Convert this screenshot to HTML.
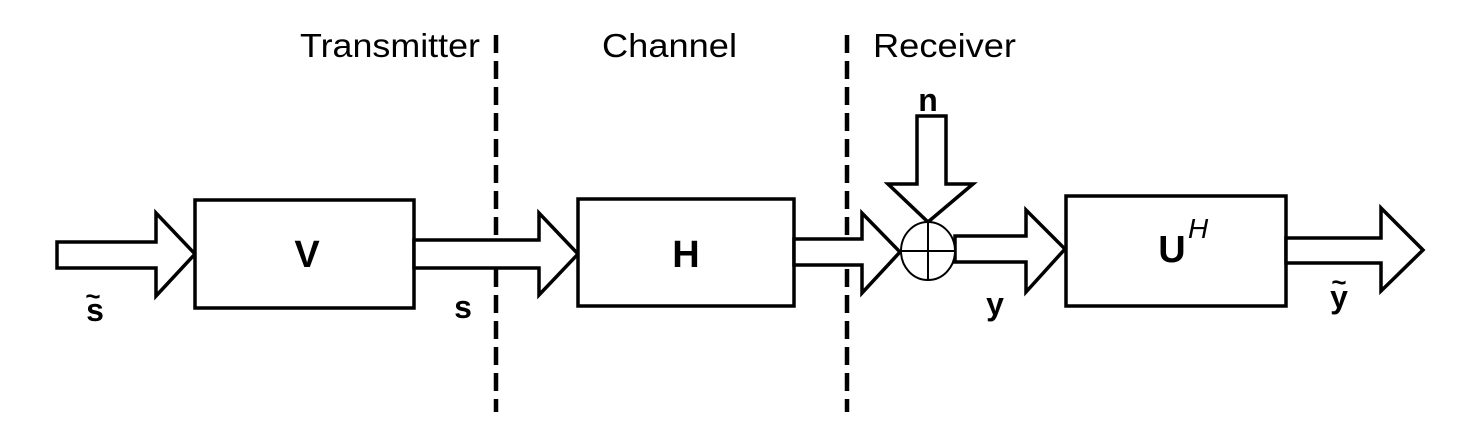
<!DOCTYPE html>
<html><head><style>
html,body{margin:0;padding:0;background:#fff;}
svg{display:block;}
text{font-family:"Liberation Sans",sans-serif;fill:#000;}
</style></head><body>
<svg width="1461" height="441" viewBox="0 0 1461 441" xmlns="http://www.w3.org/2000/svg">
<g stroke="#000" stroke-width="4.5" stroke-dasharray="18 8" fill="none">
<line x1="496" y1="35" x2="496" y2="412"/>
<line x1="847" y1="35" x2="847" y2="412"/>
</g>
<g stroke="#000" stroke-width="3.5" fill="#fff" stroke-linejoin="miter">
<polygon points="57,242 156,242 156,213 195,254 156,296 156,268 57,268"/>
<rect x="195" y="200" width="219" height="108"/>
<polygon points="414,240 539,240 539,213 578,254 539,295 539,268 414,268"/>
<rect x="578" y="199" width="216" height="107"/>
<polygon points="794,239 862,239 862,213 900,252 862,293 862,265 794,265"/>
<polygon points="955,236 1026,236 1026,210 1065,249 1026,292 1026,262 955,262"/>
<rect x="1066" y="196" width="220" height="110"/>
<polygon points="1286,238 1381,238 1381,208 1423,250 1381,291 1381,263 1286,263"/>
<polygon points="917,116 946,116 946,184 973,184 928,222 888,184 917,184"/>
</g>
<g stroke="#000" stroke-width="2" fill="#fff">
<ellipse cx="928" cy="251" rx="27" ry="29"/>
<line x1="901" y1="251" x2="955" y2="251"/>
<line x1="928" y1="222" x2="928" y2="280"/>
</g>
<text x="300" y="57" font-size="33" textLength="180" lengthAdjust="spacingAndGlyphs">Transmitter</text>
<text x="602" y="57" font-size="33" textLength="135" lengthAdjust="spacingAndGlyphs">Channel</text>
<text x="873" y="57" font-size="33" textLength="143" lengthAdjust="spacingAndGlyphs">Receiver</text>
<g font-weight="bold" text-anchor="middle">
<text x="307" y="267" font-size="38">V</text>
<text x="686" y="267" font-size="38">H</text>
<text x="1172" y="262" font-size="38">U</text>
<text x="928" y="111" font-size="32">n</text>
<text x="95" y="321" font-size="32">s</text>
<text x="93" y="305" font-size="26">~</text>
<text x="463" y="318" font-size="32">s</text>
<text x="995" y="315" font-size="32">y</text>
<text x="1339" y="308" font-size="32">y</text>
<text x="1339" y="291" font-size="26">~</text>
</g>
<text x="1188" y="238" font-size="28" font-style="italic">H</text>
</svg>
</body></html>
